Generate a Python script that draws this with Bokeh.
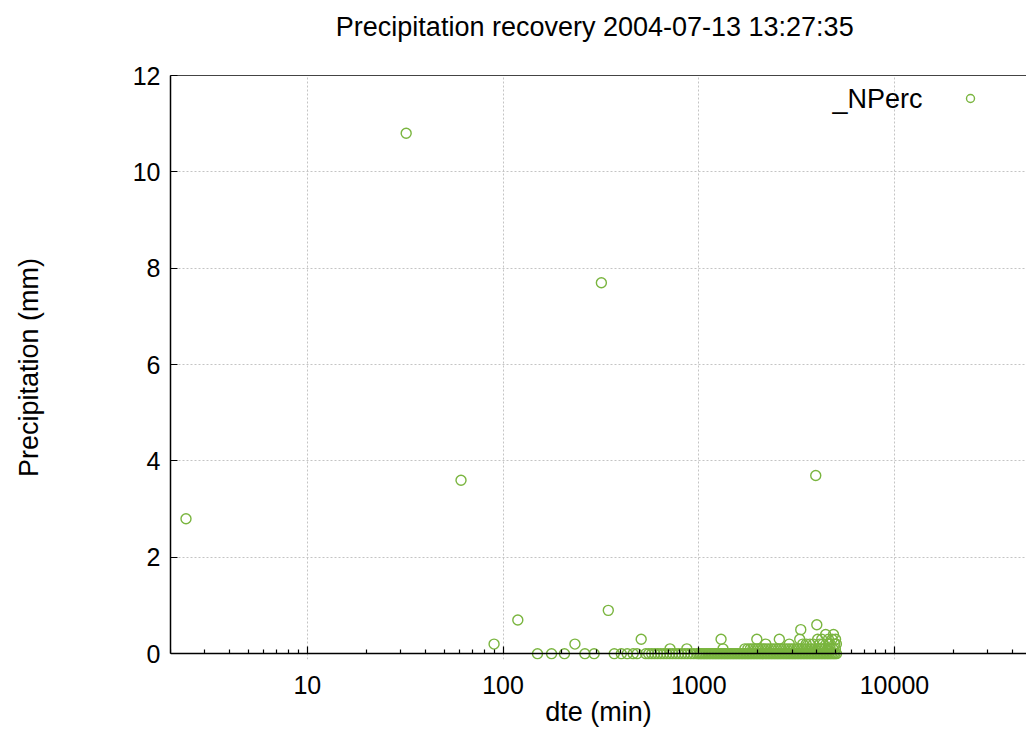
from bokeh.plotting import figure
from bokeh.models import (Range1d, FixedTicker, PrintfTickFormatter, LogAxis,
                          Legend, LegendItem, Label, ColumnDataSource)
from bokeh.embed import file_html
from bokeh.resources import INLINE

FONT = "Liberation Sans"
GREEN = "#7ab53f"

# ---- data ----
# isolated events
dte_events = [2.4, 32, 61, 90, 119, 233, 318, 345, 508, 3960]
prec_events = [2.8, 10.8, 3.6, 0.2, 0.7, 0.2, 7.7, 0.9, 0.3, 3.7]

# small amounts in the dense part
dte_small = [713, 869, 1300, 1330, 1720, 1980, 2200, 2580, 2900, 3280, 3320,
             3400, 3540, 3700, 3850, 4010, 4050, 4150, 4250, 4300, 4450, 4600,
             4610, 4700, 4800, 4880, 4950, 5000, 5050]
prec_small = [0.1, 0.1, 0.3, 0.1, 0.1, 0.3, 0.2, 0.3, 0.2, 0.3, 0.5,
              0.2, 0.2, 0.2, 0.2, 0.6, 0.3, 0.2, 0.3, 0.2, 0.4, 0.3,
              0.2, 0.2, 0.3, 0.4, 0.2, 0.3, 0.2]

# readings of 0.1 mm
dte_tenth = [1780, 1835, 1890, 1950, 2010, 2070, 2135, 2200, 2270, 2340, 2410,
             2485, 2560, 2640, 2720, 2805, 2890, 2980, 3070, 3165, 3265, 3365,
             3470, 3575, 3685, 3800, 3915, 4035, 4160, 4290, 4420, 4555, 4695,
             4840, 4990]

# readings of 0 mm
dte_zero = [150, 177, 206, 262, 292, 370, 402, 431, 462, 484,
            536, 555, 575, 596, 617, 639, 662, 686, 711, 736, 763, 790, 818,
            848, 878, 910, 943, 977,
            1000, 1018, 1036, 1055, 1074, 1093, 1113, 1133, 1153, 1174, 1195,
            1216, 1238, 1260, 1283, 1306, 1330, 1354, 1378, 1403, 1428, 1454,
            1480, 1506, 1533, 1561, 1589, 1617, 1646, 1676, 1706, 1737, 1768,
            1800, 1832, 1865, 1898, 1932, 1967, 2002, 2038, 2075, 2112, 2150,
            2189, 2228, 2268, 2309, 2350, 2393, 2436, 2480, 2524, 2569, 2615,
            2662, 2710, 2759, 2809, 2859, 2910, 2963, 3016, 3070, 3125, 3181,
            3239, 3297, 3356, 3416, 3478, 3540, 3604, 3669, 3735, 3802, 3870,
            3939, 4010, 4082, 4155, 4230, 4306, 4383, 4462, 4542, 4624, 4707,
            4791, 4877, 4965, 5054]

x_ticks = [10, 100, 1000, 10000]
y_ticks = [0, 2, 4, 6, 8, 10, 12]

TITLE = "Precipitation  recovery 2004-07-13 13:27:35"
XLABEL = "dte (min)"
YLABEL = "Precipitation (mm)"
SERIES = "_NPerc"

dte_all = dte_zero + dte_tenth + dte_small + dte_events
prec_all = ([0.0] * len(dte_zero) + [0.1] * len(dte_tenth) + prec_small + prec_events)
src = ColumnDataSource(data=dict(dte=dte_all, prec=prec_all))

p = figure(width=1026, height=756, x_axis_type="log",
           x_range=Range1d(2.0, 47260), y_range=Range1d(-0.12, 12),
           output_backend="svg", toolbar_location=None,
           min_border_left=170, min_border_right=0,
           min_border_top=75, min_border_bottom=97)
p.outline_line_color = None
p.background_fill_color = "white"
p.border_fill_color = "white"

minor = [m * 10 ** e for e in range(0, 5) for m in range(2, 10)]

# axis line + ticks drawn through y = 0 (labels come from the axis below)
xa = p.xaxis[0]
xa.ticker = FixedTicker(ticks=x_ticks, minor_ticks=minor)
xa.major_label_overrides = {t: "" for t in x_ticks}
xa.fixed_location = 0
xa.axis_line_color = "black"
xa.axis_line_width = 1.5
xa.major_tick_in = 7
xa.major_tick_out = 0
xa.minor_tick_in = 4
xa.minor_tick_out = 0
xa.major_tick_line_color = "black"
xa.minor_tick_line_color = "black"
xa.major_tick_line_width = 1.2
xa.minor_tick_line_width = 1.2

# tick labels + axis label
xl = LogAxis(ticker=FixedTicker(ticks=x_ticks),
             formatter=PrintfTickFormatter(format="%d"),
             axis_line_color=None, major_tick_line_color=None,
             minor_tick_line_color=None,
             major_tick_in=0, major_tick_out=0,
             major_label_standoff=16,
             major_label_text_font=FONT, major_label_text_font_size="25px",
             major_label_text_color="black",
             axis_label=XLABEL, axis_label_text_font=FONT,
             axis_label_text_font_size="27px",
             axis_label_text_font_style="normal",
             axis_label_text_color="black", axis_label_standoff=0)
p.add_layout(xl, "below")

ya = p.yaxis[0]
ya.ticker = FixedTicker(ticks=y_ticks)
ya.bounds = (0, 12)
ya.axis_line_color = "black"
ya.axis_line_width = 1.5
ya.major_tick_in = 7
ya.major_tick_out = 0
ya.major_tick_line_width = 1.2
ya.minor_tick_line_color = None
ya.major_label_standoff = 10
ya.major_label_text_font = FONT
ya.major_label_text_font_size = "25px"
ya.major_label_text_color = "black"
ya.axis_label = YLABEL
ya.axis_label_text_font = FONT
ya.axis_label_text_font_size = "27px"
ya.axis_label_text_font_style = "normal"
ya.axis_label_text_color = "black"
ya.axis_label_standoff = 86

# top border line, carrying the title as its label
top = LogAxis(ticker=FixedTicker(ticks=[]),
              major_tick_line_color=None, minor_tick_line_color=None,
              major_tick_in=0, major_tick_out=0, minor_tick_in=0, minor_tick_out=0,
              major_label_standoff=0, axis_line_color="#444444",
              axis_line_width=1.2,
              axis_label=TITLE, axis_label_text_font=FONT,
              axis_label_text_font_size="27px",
              axis_label_text_font_style="normal",
              axis_label_text_color="black", axis_label_standoff=34)
p.add_layout(top, "above")

p.grid.grid_line_color = "#c4c4c4"
p.grid.grid_line_dash = "2 2"
p.grid.grid_line_width = 1

r = p.scatter(x="dte", y="prec", source=src, marker="circle", size=10,
              fill_color=None, line_color=GREEN, line_width=1.4)

leg = Legend(items=[LegendItem(label=" ", renderers=[r])],
             location=(790, 551), padding=0, margin=0, spacing=0,
             glyph_width=20, glyph_height=20, label_height=20, label_width=0,
             label_standoff=0, label_text_font_size="10px",
             border_line_color=None, background_fill_alpha=0)
p.add_layout(leg)

p.add_layout(Label(x=752, y=561, x_units="screen", y_units="screen",
                   text=SERIES, text_align="right", text_baseline="middle",
                   text_font=FONT, text_font_size="27px", text_color="black"))

open("out.html", "w").write(file_html(p, INLINE))
